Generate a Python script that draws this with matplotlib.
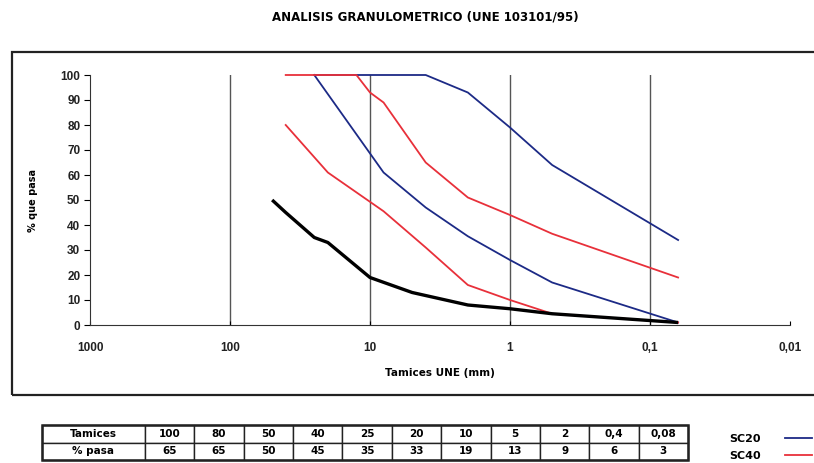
import matplotlib
matplotlib.use("Agg")
import matplotlib.pyplot as plt
from matplotlib.patches import Rectangle
from matplotlib.lines import Line2D

# tabla de la muestra
tamices = [100, 80, 50, 40, 25, 20, 10, 5, 2, 0.4, 0.08]
tamices_txt = ["100", "80", "50", "40", "25", "20", "10", "5", "2", "0,4", "0,08"]
pasa = [65, 65, 50, 45, 35, 33, 19, 13, 9, 6, 3]

# curva de la muestra tal como aparece dibujada
muestra_x = [50, 40, 25, 20, 10, 5, 2, 1, 0.5, 0.063]
muestra_y = [50, 45, 35, 33, 19, 13, 8, 6.5, 4.5, 1]

# husos SC20 / SC40
sc20_sup_x = [25, 4, 2, 1, 0.5, 0.063]
sc20_sup_y = [100, 100, 93, 79, 64, 34]
sc20_inf_x = [25, 8, 4, 2, 1, 0.5, 0.063]
sc20_inf_y = [100, 61, 47, 35.5, 26, 17, 1]
sc40_sup_x = [40, 12.5, 10, 8, 4, 2, 1, 0.5, 0.063]
sc40_sup_y = [100, 100, 93, 89, 65, 51, 44, 36.5, 19]
sc40_inf_x = [40, 20, 8, 4, 2, 1, 0.5, 0.063]
sc40_inf_y = [80, 61, 45.5, 31, 16, 10, 4.5, 1]

x_ticks = [1000, 100, 10, 1, 0.1, 0.01]
x_labels = ["1000", "100", "10", "1", "0,1", "0,01"]

AZUL = "#1c2a86"
ROJO = "#e8303a"
NARROW = ["Liberation Sans Narrow", "DejaVu Sans"]

plt.rcParams["font.family"] = ["Liberation Sans", "DejaVu Sans"]

fig = plt.figure(figsize=(8.14, 4.63), dpi=100)

# marco exterior
fig.patches.append(Rectangle((12 / 814, 1 - 395 / 463), 1.0, (395 - 52) / 463,
                             transform=fig.transFigure, fill=False,
                             lw=1.6, ec="#222222"))

fig.text(0.522, 0.963, "ANALISIS GRANULOMETRICO (UNE 103101/95)",
         ha="center", va="center", fontsize=8.5, fontweight="bold",
         family=NARROW)

ax = fig.add_axes([90 / 814, 1 - 325 / 463, 700 / 814, 250 / 463])
ax.set_xscale("log")
ax.set_xlim(1000, 0.01)
ax.set_ylim(0, 100)

for g in [100, 10, 1, 0.1]:
    ax.plot([g, g], [0, 100], color="#555555", lw=1.0, zorder=1)

kw = dict(lw=1.3, clip_on=False, zorder=3)
ax.plot(sc20_sup_x, sc20_sup_y, color=AZUL, **kw)
ax.plot(sc20_inf_x, sc20_inf_y, color=AZUL, **kw)
ax.plot(sc40_sup_x, sc40_sup_y, color=ROJO, **kw)
ax.plot(sc40_inf_x, sc40_inf_y, color=ROJO, **kw)

ax.plot(muestra_x, muestra_y, color="black", lw=2.4, zorder=4,
        solid_capstyle="butt", solid_joinstyle="round")

for s in ["top", "right"]:
    ax.spines[s].set_visible(False)
ax.spines["left"].set_color("#333333")
ax.spines["bottom"].set_color("#333333")

ax.set_xticks(x_ticks)
ax.set_xticklabels(x_labels)
ax.minorticks_off()
ax.tick_params(axis="x", direction="in", length=3, pad=12, labelsize=8.5)
ax.set_yticks(range(0, 101, 10))
ax.tick_params(axis="y", direction="out", length=4, pad=3, labelsize=8.5)
for lab in ax.get_xticklabels() + ax.get_yticklabels():
    lab.set_fontweight("bold")
    lab.set_color("#222222")

ax.set_xlabel("Tamices UNE (mm)", fontsize=7.5, fontweight="bold",
              family=NARROW, labelpad=10)
ax.set_ylabel("% que pasa", fontsize=7, fontweight="bold",
              family=NARROW, labelpad=16)

# tabla inferior
tax = fig.add_axes([42 / 814, 1 - 460 / 463, 646 / 814, 35 / 463])
tax.axis("off")
anchos = [103] + [49.4] * len(tamices)
tot = sum(anchos)
tabla = tax.table(cellText=[["Tamices"] + tamices_txt,
                            ["% pasa"] + [str(p) for p in pasa]],
                  colWidths=[a / tot for a in anchos],
                  cellLoc="center", bbox=[0, 0, 1, 1])
tabla.auto_set_font_size(False)
for (r, c), cell in tabla.get_celld().items():
    cell.set_linewidth(1.0)
    cell.set_edgecolor("#222222")
    cell.get_text().set_fontsize(7.5)
    cell.get_text().set_fontweight("bold")
    cell.get_text().set_family(NARROW)
tax.add_patch(Rectangle((0, 0), 1, 1, transform=tax.transAxes, fill=False,
                        lw=1.8, ec="#222222", clip_on=False))

# leyenda
fig.legend([Line2D([], [], color=AZUL, lw=1.3), Line2D([], [], color=ROJO, lw=1.3)],
           ["SC20", "SC40"], loc="lower right", bbox_to_anchor=(1.0, 0.0),
           frameon=False, markerfirst=False, handlelength=2.4, handletextpad=2.2,
           borderpad=0.2, borderaxespad=0.0, labelspacing=0.6,
           prop={"family": NARROW, "weight": "bold", "size": 8})

fig.savefig("out.png", dpi=100)
